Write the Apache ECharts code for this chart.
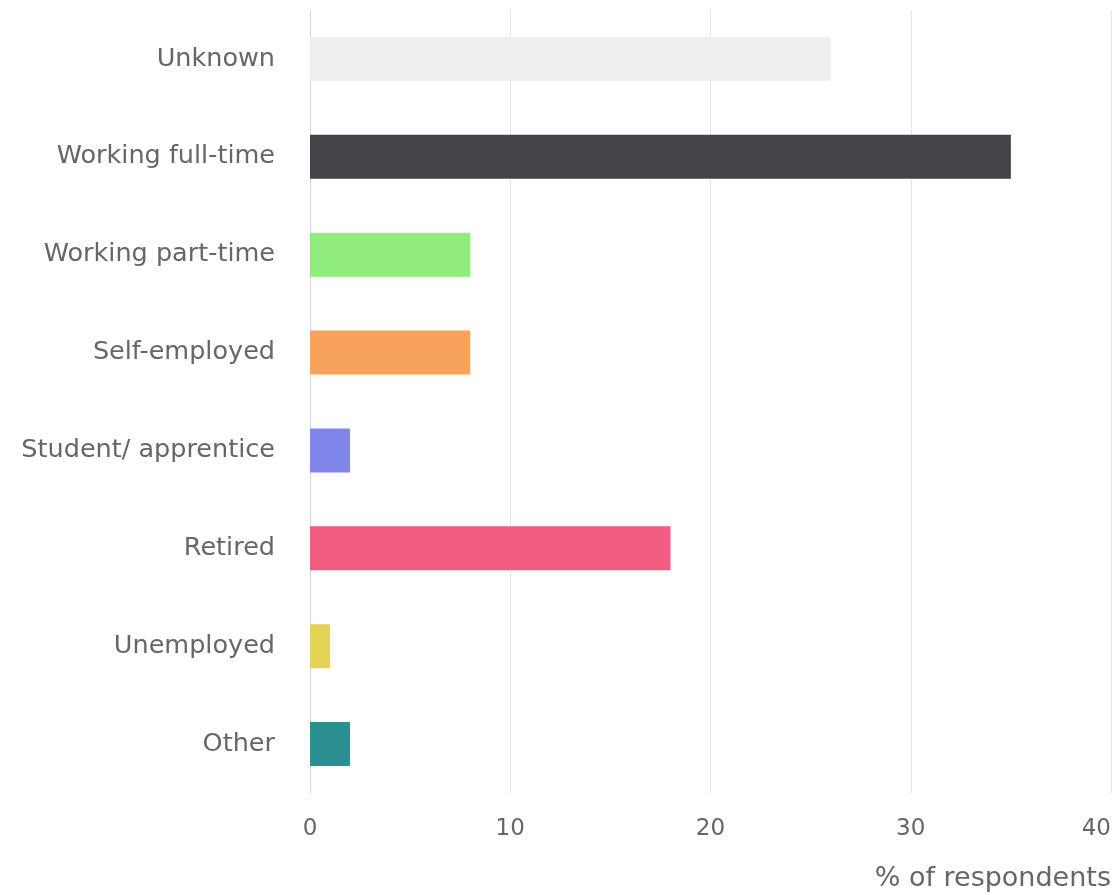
<!DOCTYPE html>
<html>
<head>
<meta charset="utf-8">
<script src="https://cdn.jsdelivr.net/npm/echarts@6/dist/echarts.min.js"></script>
<style>
  html, body { margin: 0; padding: 0; background: #fff; }
  #chart { width: 1115px; height: 895px; }
</style>
</head>
<body>
<div id="chart"></div>
<script>
// categories, top to bottom
const categories = ['Unknown', 'Working full-time', 'Working part-time', 'Self-employed',
  'Student/ apprentice', 'Retired', 'Unemployed', 'Other'];
// % of respondents
const values = [26, 35, 8, 8, 2, 18, 1, 2];
const barColors = ['#eeeeee', '#434348', '#90ed7d', '#f7a35c', '#8085e9', '#f15c80', '#e4d354', '#2b908f'];
const xTicks = { min: 0, max: 40, interval: 10 };

const myChart = echarts.init(document.getElementById('chart'));

const option = {
  animation: false,
  textStyle: { fontFamily: 'DejaVu Sans' },
  grid: { left: 310, right: 4, top: 10, bottom: 102, containLabel: false },
  xAxis: {
    type: 'value',
    min: xTicks.min,
    max: xTicks.max,
    interval: xTicks.interval,
    name: '% of respondents',
    nameLocation: 'end',
    nameGap: 0,
    nameTextStyle: {
      color: '#666666', fontSize: 27, align: 'right', verticalAlign: 'top',
      padding: [72, 0, 0, 0]
    },
    axisLine: { show: false },
    axisTick: { show: false },
    axisLabel: { color: '#666666', fontSize: 23, margin: 25, alignMaxLabel: 'right' },
    splitLine: { lineStyle: { color: '#e6e6e6', width: 1 } }
  },
  yAxis: {
    type: 'category',
    inverse: true,
    data: categories,
    axisLine: { lineStyle: { color: '#ccd6eb', width: 1 } },
    axisTick: { show: false },
    axisLabel: { color: '#666666', fontSize: 25.5, margin: 35 }
  },
  series: [{
    type: 'bar',
    barWidth: '45%',
    data: values.map((v, i) => ({ value: v, itemStyle: { color: barColors[i] } }))
  }]
};

myChart.setOption(option);
</script>
</body>
</html>
